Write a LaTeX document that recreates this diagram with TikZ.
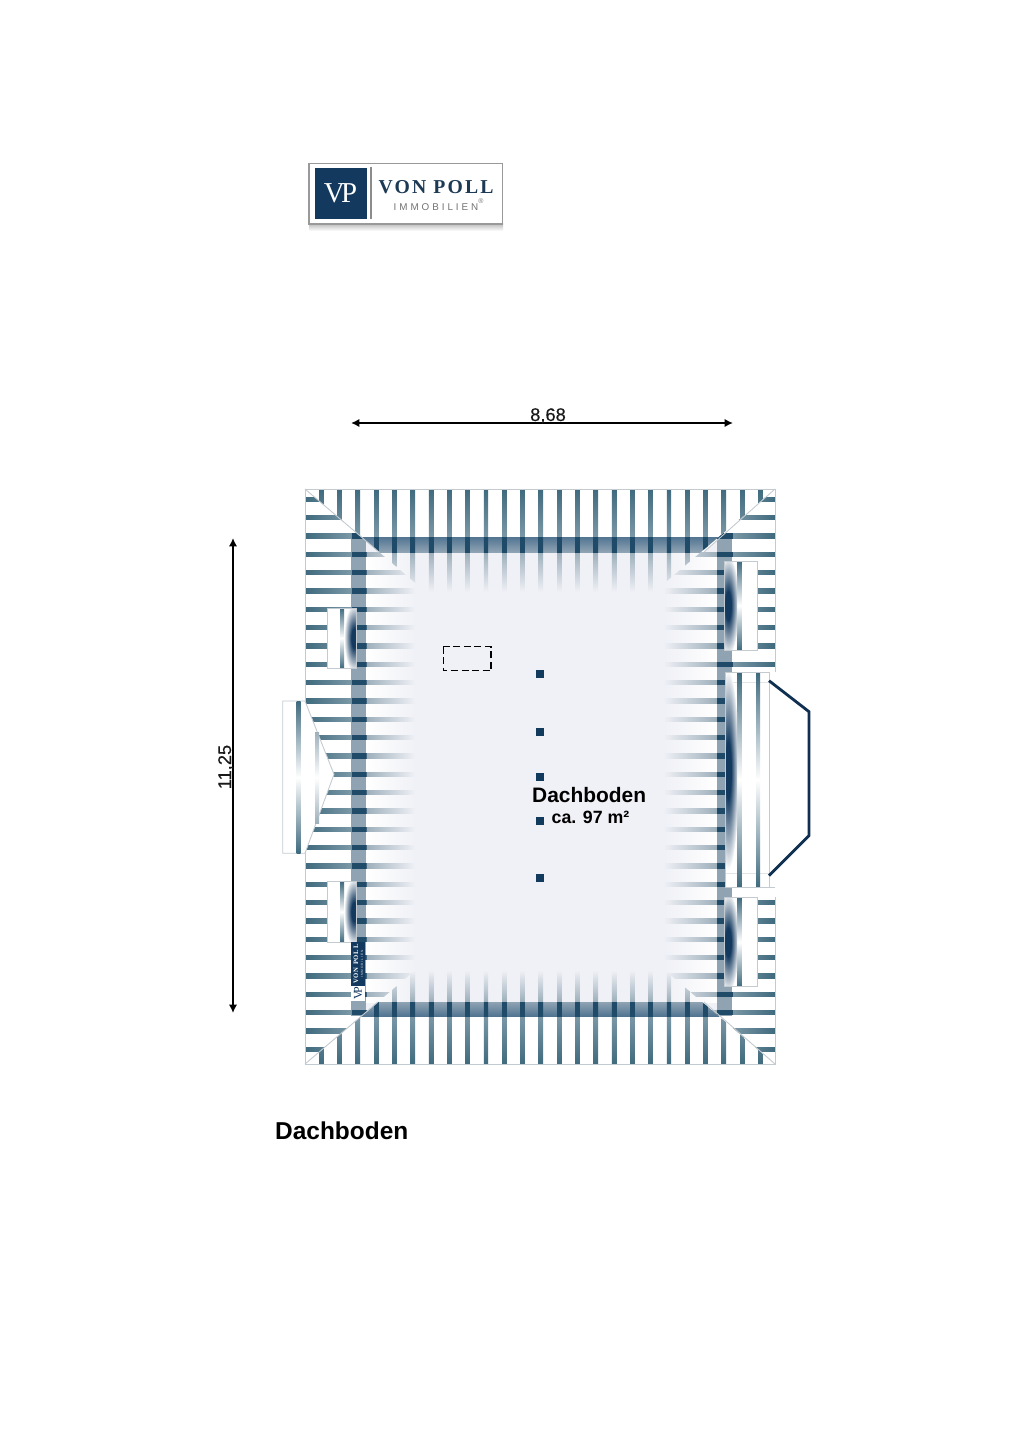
\documentclass[tikz,border=0pt]{standalone}
\usepackage{fontspec}
\usetikzlibrary{arrows.meta}
\setmainfont{Liberation Sans}
\newfontfamily\dimfont[FakeBold=0.25]{Liberation Sans}
\newfontfamily\logoserif[LetterSpace=11]{Liberation Serif}
\newfontfamily\logoplain{Liberation Serif}
\newfontfamily\logosans[LetterSpace=30]{Liberation Sans}
\definecolor{navy}{HTML}{13395F}
\definecolor{logotext}{HTML}{1D3A55}
\definecolor{post}{HTML}{123A5C}
\definecolor{floorc}{HTML}{F0F1F6}
\definecolor{raftout}{HTML}{3F6A7E}
\definecolor{raftmid}{HTML}{7B98A6}
\definecolor{raftdark}{HTML}{1F4A68}
\definecolor{raftfade}{HTML}{9DAFBB}
\definecolor{bandc}{HTML}{8FA3B3}
\definecolor{bandd}{HTML}{527592}
\definecolor{edgec}{HTML}{C3CBD0}
\pgfdeclarehorizontalshading{raftleft}{100bp}{color(0bp)=(raftout); color(25bp)=(raftout); color(45.9bp)=(raftmid); color(46bp)=(raftdark); color(52.7bp)=(raftdark); color(52.8bp)=(raftfade); color(75bp)=(floorc); color(100bp)=(floorc)}
\pgfdeclarehorizontalshading{raftright}{100bp}{color(0bp)=(floorc); color(25bp)=(floorc); color(49bp)=(raftfade); color(49.1bp)=(raftdark); color(55.8bp)=(raftdark); color(55.9bp)=(raftmid); color(75bp)=(raftout); color(100bp)=(raftout)}
\pgfdeclareverticalshading{rafttop}{100bp}{color(0bp)=(floorc); color(25bp)=(floorc); color(44.3bp)=(raftfade); color(44.4bp)=(raftdark); color(51.7bp)=(raftdark); color(51.8bp)=(raftmid); color(75bp)=(raftout); color(100bp)=(raftout)}
\pgfdeclareverticalshading{raftbottom}{100bp}{color(0bp)=(raftout); color(25bp)=(raftout); color(50.4bp)=(raftmid); color(50.5bp)=(raftdark); color(58bp)=(raftdark); color(58.1bp)=(raftfade); color(75bp)=(floorc); color(100bp)=(floorc)}
\pgfdeclareverticalshading{stripe}{100bp}{color(0bp)=(raftout); color(25bp)=(raftout); color(50bp)=(white); color(75bp)=(raftout); color(100bp)=(raftout)}
\pgfdeclareverticalshading{stripelight}{100bp}{color(0bp)=(raftfade); color(25bp)=(raftfade); color(50bp)=(white); color(75bp)=(raftfade); color(100bp)=(raftfade)}
\pgfdeclareradialshading{glow}{\pgfpoint{0bp}{0bp}}{color(0bp)=(navy); color(7bp)=(navy); color(25bp)=(white); color(50bp)=(white)}
\tikzset{
  dormer/.style={fill=white,draw=edgec,line width=0.25pt},
  hip/.style={draw=edgec,line width=0.25pt},
  dim/.style={black,line width=0.48pt,{Latex[length=2.4pt,width=2.4pt]}-{Latex[length=2.4pt,width=2.4pt]}},
  label/.style={font=\dimfont\fontsize{5.2}{6}\selectfont,text=black!90},
}
\begin{document}
\begin{tikzpicture}[x=0.01cm,y=0.01cm]
\tikzstyle{every node}+=[inner sep=0pt]
\useasboundingbox (0,0) rectangle (1024,-1449);
\fill [white] (0,0) rectangle (1024,-1449);
% logo
\shade [top color=black!25,bottom color=white] (309,-224) rectangle (503,-231);
\draw [fill=white,draw=black!40,line width=0.35pt] (309,-163.5) rectangle (502.5,-224);
\fill [navy] (315.3,-167.7) rectangle (366.7,-219.3);
\draw [black!45,line width=0.3pt] (371,-167) -- (371,-219);
\node (logovp) at (340.5,-193.5) {\logoplain\fontsize{8.2}{9}\selectfont\color{white}V\kern-.13em P};
\node (logoname) [anchor=base west] at (378,-193.5) {\logoserif\bfseries\fontsize{5.6}{6}\selectfont\color{logotext}VON POLL};
\node (logosub) [anchor=base west] at (393,-210.5) {\logosans\fontsize{2.8}{3}\selectfont\color{black!55}IMMOBILIEN\textsuperscript{®}};
% dimensions
\coordinate (widthl) at (351,-423);
\coordinate (widthr) at (733,-423);
\draw [dim] (widthl) -- (widthr);
\node (widthlabel) [label,anchor=base] at (548,-421) {8,68};
\coordinate (heightt) at (233,-538);
\coordinate (heightb) at (233,-1013);
\draw [dim] (heightt) -- (heightb);
\node (heightlabel) [label,rotate=90,anchor=base] at (231,-767) {11,25};
% floor
\fill [floorc] (366,-541) -- (379,-552) -- (704,-552) -- (717,-541) -- (717,-1012) -- (704,-1002) -- (378,-1002) -- (366,-1012) -- cycle;
\shade [left color=white,right color=floorc] (366,-552) rectangle (415,-1002);
\shade [left color=floorc,right color=white] (665,-552) rectangle (717,-1002);
% left slope
\begin{scope}
\clip (305,-489) -- (426,-592) -- (426,-961) -- (305,-1064) -- cycle;
\fill [bandc] (351,-537) rectangle (366,-1016);
\foreach \k in {0,...,30}
  \shade [shading=raftleft] (305,-499.3-18.33*\k-2.2) rectangle (415,-499.3-18.33*\k+2.2);
\end{scope}
% right slope
\begin{scope}
\clip (775,-489) -- (654,-592) -- (654,-961) -- (775,-1064) -- cycle;
\fill [bandc] (717,-537) rectangle (732,-1016);
\foreach \k in {0,...,30}
  \shade [shading=raftright] (663,-499.3-18.33*\k-2.2) rectangle (775,-499.3-18.33*\k+2.2);
\end{scope}
% top slope
\begin{scope}
\clip (305,-489) -- (775,-489) -- (654,-592) -- (426,-592) -- cycle;
\shade [top color=bandd,bottom color=bandc] (351,-537) rectangle (732,-552);
\foreach \k in {0,...,24}
  \shade [shading=rafttop] (321.3+18.3*\k-2.2,-489) rectangle (321.3+18.3*\k+2.2,-592);
\end{scope}
% bottom slope
\begin{scope}
\clip (305,-1064) -- (775,-1064) -- (654,-961) -- (426,-961) -- cycle;
\shade [top color=bandc,bottom color=bandd] (351,-1002) rectangle (732,-1016);
\foreach \k in {0,...,24}
  \shade [shading=raftbottom] (321.3+18.3*\k-2.2,-970) rectangle (321.3+18.3*\k+2.2,-1064);
\end{scope}
% hips and roof edge
\draw [hip] (305,-489) -- (379,-552);
\draw [hip] (775,-489) -- (704,-552);
\draw [hip] (305,-1064) -- (378,-1002);
\draw [hip] (775,-1064) -- (704,-1002);
\draw [hip] (775,-672) -- (775,-489) -- (305,-489) -- (305,-1064) -- (775,-1064) -- (775,-887);
% left dormers
\foreach \top/\bot in {608/668,881.7/942} {
  \draw [dormer] (327.3,-\top) rectangle (356,-\bot);
  \shade [shading=stripe] (340,-\top) rectangle (344,-\bot);
  \begin{scope}
  \clip (327.3,-\top) rectangle (356,-\bot);
  \shade [shading=glow] (354,-\top/2-\bot/2) ellipse (10 and 34);
  \end{scope}
  \draw [hip] (327.3,-\top) rectangle (356,-\bot);
}
% left large dormer
\draw [dormer] (305,-701) -- (282.7,-701) -- (282.7,-853.3) -- (305,-853.3) -- (334,-774.3) -- cycle;
\shade [shading=stripe] (296.7,-701.5) rectangle (300.7,-853);
\shade [shading=stripelight] (315,-732) rectangle (319,-823);
% right dormers
\foreach \top/\bot in {561/650,897.3/986.7} {
  \draw [dormer] (724.5,-\top) rectangle (757.3,-\bot);
  \shade [shading=stripe] (737.7,-\top) rectangle (741.7,-\bot);
  \begin{scope}
  \clip (724.5,-\top) rectangle (737,-\bot);
  \shade [shading=glow] (728,-\top/2-\bot/2) ellipse (11 and 50);
  \end{scope}
  \draw [hip] (724.5,-\top) rectangle (757.3,-\bot);
}
% right large dormer
\fill [white] (725,-672) rectangle (776,-887);
\fill [white] (732,-887) rectangle (775.5,-897);
\draw [dormer] (725,-672.3) rectangle (769,-887.3);
\draw [edgec!50,line width=0.25pt] (725,-682) -- (769,-682);
\draw [edgec!50,line width=0.25pt] (725,-873) -- (769,-873);
\shade [shading=stripe] (737.7,-672.8) rectangle (741.7,-887);
\shade [shading=stripe] (756,-672.8) rectangle (760,-887);
\begin{scope}
\clip (725,-672.3) rectangle (737,-887.3);
\shade [shading=glow] (728,-770) ellipse (11 and 100);
\end{scope}
\draw [hip] (725,-672.3) rectangle (769,-887.3);
\draw [hip] (775,-887) -- (732,-887);
\draw [navy!85!black,line width=0.8pt] (769,-680.7) -- (809,-711.7) -- (809,-835.7) -- (769,-875.7);
% small logo on the slope
\fill [navy] (351,-942) rectangle (365,-985.7);
\fill [white] (351,-985.7) rectangle (365,-1001);
\node (stampname) [rotate=90] at (356,-964) {\logoserif\bfseries\fontsize{1.9}{2}\selectfont\color{white}VON POLL};
\node (stampsub) [rotate=90] at (362,-964) {\logosans\fontsize{0.9}{1}\selectfont\color{white!80!navy}IMMOBILIEN};
\node (stampvp) [rotate=90] at (358,-993) {\logoplain\fontsize{3.4}{4}\selectfont\color{navy}V\kern-.2em P};
% hatch and posts
\draw [black,line width=0.45pt,dash pattern=on 2pt off 1pt] (443.3,-646.7) rectangle (491,-670.7);
\foreach \y in {674,732,777,821,878}
  \fill [post] (536.2,-\y-3.9) rectangle (543.9,-\y+3.9);
% labels
\node (roomname) [anchor=base west,font=\bfseries\fontsize{5.95}{7}\selectfont] at (531.5,-802) {Dachboden};
\node (roomarea) [anchor=base west,font=\bfseries\fontsize{5.05}{6}\selectfont] at (551,-823) {ca. 97 m²};
\node (title) [anchor=base west,font=\bfseries\fontsize{6.95}{8}\selectfont] at (274.5,-1139) {Dachboden};
\end{tikzpicture}
\end{document}
